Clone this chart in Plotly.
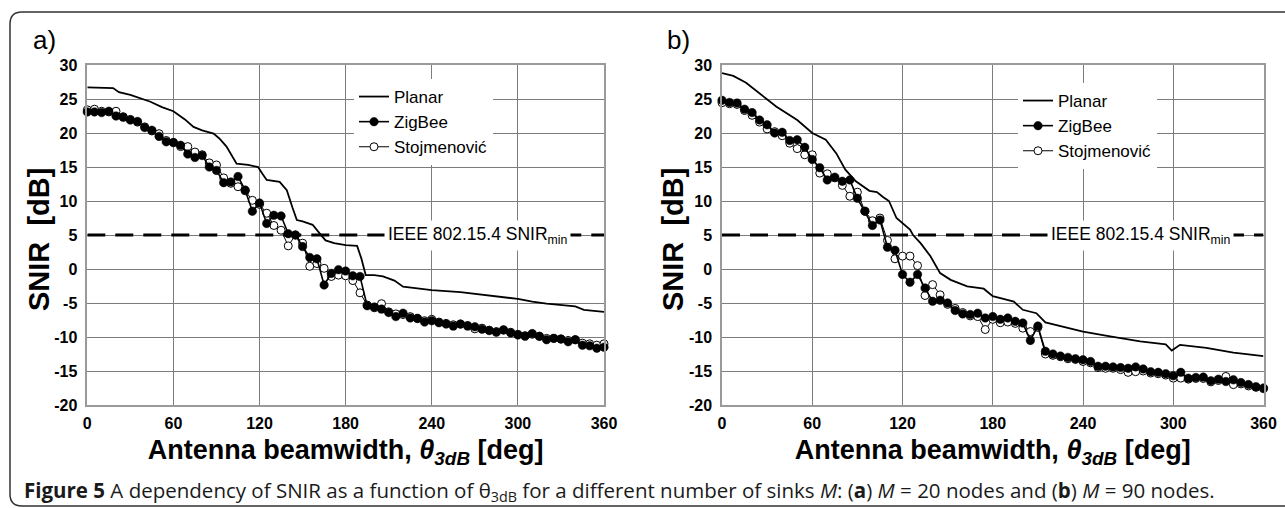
import plotly.graph_objects as go

W, H = 1285, 508

# ---------------- data ----------------
deg = list(range(0, 361, 5))

# panel (a)  M = 20 nodes
planar_a_x = [0, 10, 18, 22, 30, 44, 52, 60, 68, 74, 80, 88, 92, 97, 104, 112, 119, 122, 125, 134, 139,
              143, 146, 150, 157, 162, 166, 172, 180, 188, 191, 194, 200, 206, 214, 220, 240, 260, 280,
              300, 310, 320, 340, 346, 360]
planar_a_y = [26.7, 26.7, 26.6, 26.0, 25.6, 24.6, 23.8, 23.2, 22.0, 20.9, 20.4, 19.9, 19.2, 18.0, 15.5,
              15.3, 15.0, 14.0, 13.1, 12.8, 11.6, 9.0, 7.2, 7.0, 6.5, 5.2, 4.2, 3.8, 3.5, 3.4, 1.5, -0.9,
              -0.9, -1.1, -1.7, -2.6, -3.1, -3.4, -3.9, -4.4, -4.8, -5.1, -5.5, -6.0, -6.3]
zigbee_a = [23.1, 23.1, 23.0, 23.2, 22.5, 22.3, 21.9, 21.7, 20.8, 20.4, 19.5, 18.7, 18.6, 18.2, 16.9,
            16.4, 16.7, 15.0, 14.5, 12.7, 12.8, 13.6, 11.6, 8.5, 9.7, 6.7, 7.9, 7.8, 5.2, 5.0, 3.3, 1.7,
            1.5, -2.35, -0.65, -0.1, -0.3, -1.0, -1.1, -5.4, -5.6, -5.9, -6.4, -7.0, -6.5, -7.2, -7.25,
            -7.8, -7.6, -7.9, -8.1, -8.4, -8.1, -8.4, -8.5, -8.85, -9.05, -9.3, -8.95, -9.4, -9.7, -9.9,
            -9.5, -9.9, -10.4, -10.2, -10.3, -10.7, -10.4, -11.2, -11.3, -11.65, -11.5]
stojmenovic_a = [23.4, 23.5, 23.2, 23.1, 23.2, 22.4, 22.0, 21.6, 20.9, 20.3, 19.9, 18.9, 18.6, 18.0, 18.0,
                 17.2, 16.8, 15.6, 15.3, 13.4, 12.6, 12.1, 11.5, 10.1, 9.5, 8.2, 6.4, 5.7, 3.4, 5.0, 3.8,
                 0.4, 0.8, 0.1, -1.1, -0.9, -1.0, -1.7, -3.5, -5.3, -5.7, -5.1, -6.3, -6.6, -6.7, -7.0,
                 -7.3, -7.6, -7.4, -7.8, -8.0, -8.2, -8.1, -8.3, -8.8, -8.7, -9.0, -9.2, -9.0, -9.3, -9.6,
                 -9.8, -9.6, -9.9, -10.2, -10.2, -10.3, -10.5, -10.4, -10.9, -11.0, -11.2, -11.0]

# panel (b)  M = 90 nodes
planar_b_x = [0, 7.5, 16, 25, 36, 50, 60, 69, 76, 82, 89, 98, 103, 107, 111, 116, 120, 125, 127, 132,
              138.5, 145, 152, 163, 174, 180, 189, 194, 200, 209, 215, 229, 240, 258, 278, 295, 299,
              304.5, 322, 340, 360]
planar_b_y = [28.8, 28.4, 27.4, 25.8, 23.9, 21.9, 20.0, 19.0, 17.0, 14.6, 12.9, 11.5, 11.3, 10.6, 10.0,
              7.5, 6.7, 5.8, 5.0, 3.8, 1.9, -0.6, -1.6, -2.55, -2.9, -4.0, -4.5, -4.8, -6.0, -6.5, -7.85,
              -8.6, -9.2, -9.9, -10.65, -11.1, -12.0, -11.15, -11.6, -12.3, -12.8]
zigbee_b = [24.8, 24.5, 24.4, 23.5, 23.0, 21.9, 21.2, 20.0, 20.1, 18.9, 19.0, 17.9, 16.1, 14.9, 13.1,
            13.5, 12.9, 13.1, 10.4, 8.5, 6.4, 7.2, 3.2, 2.75, -0.8, -1.95, -0.8, -2.8, -4.75, -4.6, -5.0,
            -6.1, -6.6, -6.7, -6.5, -7.2, -7.0, -7.4, -7.2, -7.7, -7.95, -10.5, -8.4, -12.1, -12.5, -12.8,
            -13.0, -13.2, -13.35, -13.6, -14.3, -14.3, -14.4, -14.5, -14.6, -14.4, -14.7, -15.1, -15.2,
            -15.4, -15.7, -15.2, -16.05, -15.95, -15.9, -16.45, -16.2, -16.55, -16.3, -16.7, -17.0,
            -17.3, -17.5]
stojmenovic_b = [24.45, 24.3, 24.2, 23.3, 22.6, 21.6, 20.6, 20.2, 19.6, 18.5, 17.7, 16.8, 16.8, 14.1,
                 14.0, 13.4, 12.3, 10.7, 11.3, 8.5, 7.1, 7.5, 4.2, 1.5, 1.9, 1.9, 0.5, -3.9, -2.3, -3.8,
                 -5.2, -5.8, -6.4, -6.9, -7.0, -8.9, -7.4, -7.9, -7.8, -8.0, -8.7, -9.2, -8.6, -12.5,
                 -12.7, -12.9, -13.2, -13.3, -13.6, -13.8, -14.5, -14.6, -14.6, -14.8, -15.2, -15.1,
                 -15.0, -15.3, -15.4, -15.6, -16.05, -16.05, -16.2, -16.1, -16.1, -16.6, -16.4, -15.8,
                 -17.0, -16.9, -17.2, -17.4, -17.6]

snir_min_x = [0, 360]
snir_min_y = [5, 5]

x_ticks = [0, 60, 120, 180, 240, 300, 360]
y_ticks = [-20, -15, -10, -5, 0, 5, 10, 15, 20, 25, 30]

# ---------------- figure ----------------
FONT = "Liberation Sans, Arial, sans-serif"
fig = go.Figure()


def px_x(p):
    return p / W


def px_y(p):
    return (H - p) / H


panels = [
    dict(xa="x", ya="y", leg="legend", pl=(planar_a_x, planar_a_y), zb=zigbee_a, st=stojmenovic_a),
    dict(xa="x2", ya="y2", leg="legend2", pl=(planar_b_x, planar_b_y), zb=zigbee_b, st=stojmenovic_b),
]

for p in panels:
    fig.add_trace(go.Scatter(x=snir_min_x, y=snir_min_y, mode="lines", xaxis=p["xa"], yaxis=p["ya"],
                             line=dict(color="black", width=3.2, dash="18px,10px"),
                             showlegend=False, hoverinfo="skip"))
    fig.add_trace(go.Scatter(x=p["pl"][0], y=p["pl"][1], mode="lines", name="Planar",
                             xaxis=p["xa"], yaxis=p["ya"], legend=p["leg"], legendrank=1,
                             line=dict(color="black", width=1.8)))
    fig.add_trace(go.Scatter(x=deg, y=p["st"], mode="lines+markers", name="Stojmenović",
                             xaxis=p["xa"], yaxis=p["ya"], legend=p["leg"], legendrank=3,
                             cliponaxis=False,
                             line=dict(color="black", width=1),
                             marker=dict(symbol="circle", size=8, color="white",
                                         line=dict(color="black", width=1))))
    fig.add_trace(go.Scatter(x=deg, y=p["zb"], mode="lines+markers", name="ZigBee",
                             xaxis=p["xa"], yaxis=p["ya"], legend=p["leg"], legendrank=2,
                             cliponaxis=False,
                             line=dict(color="black", width=1.6),
                             marker=dict(symbol="circle", size=8.5, color="black",
                                         line=dict(color="black", width=0.5))))

y_top, y_bot = 65, 405
xa_l, xa_r = 87.3, 604
xb_l, xb_r = 722, 1263.5
xdom_a = [px_x(xa_l), px_x(xa_r)]
xdom_b = [px_x(xb_l), px_x(xb_r)]
ydom = [px_y(y_bot), px_y(y_top)]

xtitle = "<b>Antenna beamwidth, <i>θ</i><sub><i>3dB</i></sub> [deg]</b>"
axis_common = dict(showgrid=True, gridcolor="#7c7c7c", gridwidth=1, zeroline=False, automargin=False,
                   showline=True, linecolor="#9a9a9a", linewidth=1.5, mirror=True, ticks="",
                   tickfont=dict(family=FONT, size=16, color="black"))

xa = dict(axis_common, range=[0, 360], tickvals=x_ticks, ticktext=[f"<b>{t}</b>" for t in x_ticks],
          ticklabelstandoff=3,
          title=dict(text=xtitle, standoff=9, font=dict(family=FONT, size=27, color="black")))
ya = dict(axis_common, range=[-20, 30], tickvals=y_ticks, ticktext=[f"<b>{t}</b>" for t in y_ticks],
          ticklabelstandoff=5)

fig.update_layout(
    template="none",
    width=W, height=H, margin=dict(l=0, r=0, t=0, b=0, autoexpand=False),
    paper_bgcolor="white", plot_bgcolor="white",
    font=dict(family=FONT, color="black"),
    xaxis=dict(xa, domain=xdom_a, anchor="y"),
    yaxis=dict(ya, domain=ydom, anchor="x"),
    xaxis2=dict(xa, domain=xdom_b, anchor="y2"),
    yaxis2=dict(ya, domain=ydom, anchor="x2"),
    legend=dict(x=px_x(354), y=px_y(79), xanchor="left", yanchor="top", bgcolor="white",
                font=dict(family=FONT, size=17, color="black"), itemwidth=30, tracegroupgap=0),
    legend2=dict(x=px_x(1018), y=px_y(83), xanchor="left", yanchor="top", bgcolor="white",
                 font=dict(family=FONT, size=17, color="black"), itemwidth=30, tracegroupgap=0),
    showlegend=True,
)

# y-axis titles
for xpix in [39, 673]:
    fig.add_annotation(x=px_x(xpix), y=px_y(240), xref="paper", yref="paper", showarrow=False,
                       xanchor="center", yanchor="middle", textangle=-90,
                       text="<b>SNIR  [dB]</b>", font=dict(family=FONT, size=29, color="black"))

# threshold label (white box over dashed line)
for xr, yr, xv in [("x", "y", 272), ("x2", "y2", 278)]:
    fig.add_annotation(x=xv, y=5, xref=xr, yref=yr, showarrow=False,
                       xanchor="center", yanchor="middle",
                       text="IEEE 802.15.4 SNIR<sub>min</sub>", bgcolor="white", borderpad=3,
                       font=dict(family=FONT, size=17.5, color="black"))

# panel labels
for txt, xpix in [("a)", 44), ("b)", 678)]:
    fig.add_annotation(x=px_x(xpix), y=px_y(40), xref="paper", yref="paper", showarrow=False,
                       xanchor="center", yanchor="middle",
                       text=txt, font=dict(family=FONT, size=26, color="black"))

# caption
caption = ("<b>Figure 5</b> A dependency of SNIR as a function of θ<sub>3dB</sub> for a different number of "
           "sinks <i>M</i>: (<b>a</b>) <i>M</i> = 20 nodes and (<b>b</b>) <i>M</i> = 90 nodes.")
fig.add_annotation(x=px_x(22), y=px_y(491), xref="paper", yref="paper", showarrow=False,
                   xanchor="left", yanchor="middle", text=caption,
                   font=dict(family="Open Sans, Noto Sans, sans-serif", size=20.5, color="#1a1a1a"))

# rounded frame
x0, y0, x1, y1, r = px_x(10), px_y(12), px_x(1300), px_y(506), 12
rx, ry = r / W, r / H
path = (f"M {x0 + rx} {y0} L {x1} {y0} M {x0 + rx} {y0} Q {x0} {y0} {x0} {y0 - ry} "
        f"L {x0} {y1 + ry} Q {x0} {y1} {x0 + rx} {y1} L {x1} {y1}")
fig.add_shape(type="path", path=path, xref="paper", yref="paper",
              line=dict(color="#333333", width=1.5))

fig.write_html("out.html", config={"displayModeBar": False},
               post_script="document.body.style.margin='0';document.body.style.overflow='hidden';")
